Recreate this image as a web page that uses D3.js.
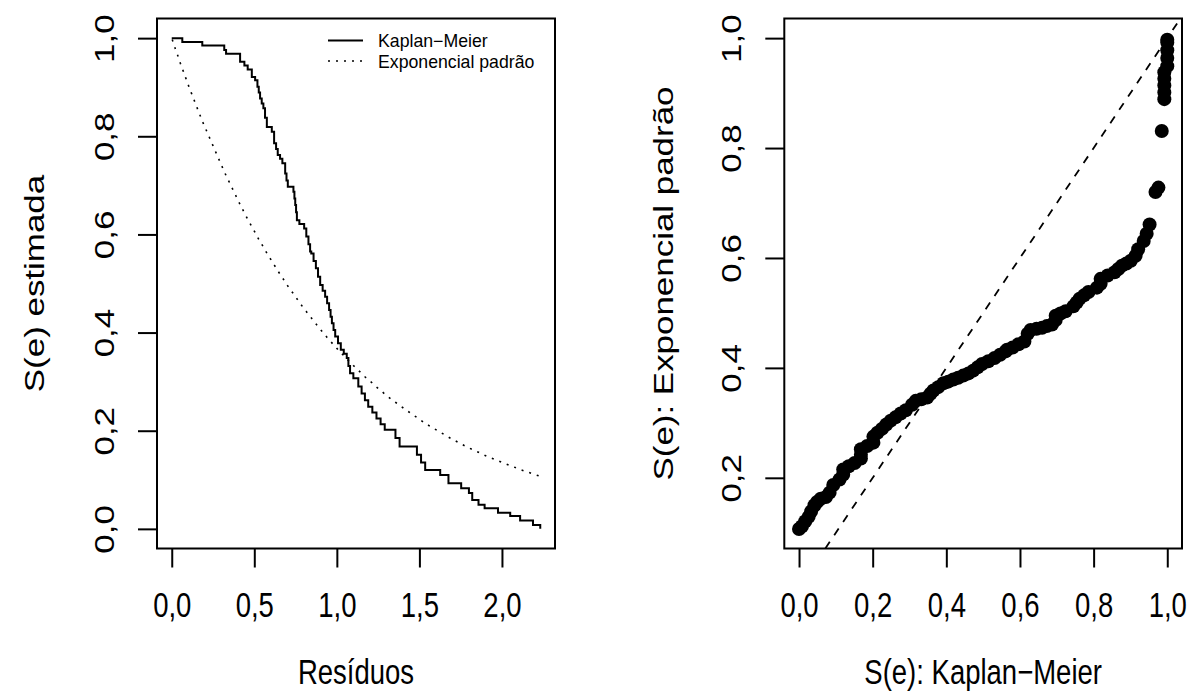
<!DOCTYPE html>
<html>
<head>
<meta charset="utf-8">
<script src="https://cdn.jsdelivr.net/npm/d3@7"></script>
<style>
  body { margin: 0; background: #fff; }
  svg { display: block; font-family: "Liberation Sans", Arial, Helvetica, sans-serif; }
</style>
</head>
<body>
<svg width="1192" height="698"></svg>
<script>
// Residuals (sorted), Kaplan-Meier estimate and standard exponential S(e) at each one
const residuos = [0.003, 0.008, 0.022, 0.037, 0.052, 0.064, 0.077, 0.090, 0.104, 0.118,
  0.185, 0.318, 0.329, 0.414, 0.440, 0.460, 0.485, 0.505, 0.519, 0.527,
  0.535, 0.545, 0.555, 0.565, 0.576, 0.592, 0.606, 0.620, 0.632, 0.642,
  0.656, 0.670, 0.687, 0.695, 0.703, 0.720, 0.737, 0.743, 0.748, 0.753,
  0.758, 0.773, 0.802, 0.815, 0.828, 0.838, 0.845, 0.859, 0.873, 0.886,
  0.899, 0.914, 0.929, 0.941, 0.953, 0.962, 0.970, 0.980, 0.990, 1.007,
  1.024, 1.042, 1.060, 1.070, 1.080, 1.100, 1.130, 1.150, 1.170, 1.190,
  1.215, 1.240, 1.265, 1.290, 1.330, 1.355, 1.380, 1.420, 1.450, 1.485,
  1.510, 1.535, 1.580, 1.626, 1.676, 1.753, 1.800, 1.820, 1.858, 1.895,
  1.976, 2.050, 2.110, 2.188, 2.232];
const survKM = [1.000, 1.000, 1.000, 1.000, 1.000, 0.992, 0.992, 0.992, 0.992, 0.992,
  0.985, 0.976, 0.968, 0.952, 0.944, 0.936, 0.921, 0.914, 0.901, 0.889,
  0.877, 0.867, 0.857, 0.838, 0.819, 0.819, 0.809, 0.786, 0.774, 0.762,
  0.754, 0.745, 0.724, 0.710, 0.697, 0.697, 0.687, 0.673, 0.660, 0.645,
  0.629, 0.621, 0.612, 0.596, 0.580, 0.565, 0.561, 0.546, 0.531, 0.514,
  0.497, 0.485, 0.473, 0.460, 0.446, 0.432, 0.419, 0.405, 0.392, 0.378,
  0.365, 0.357, 0.348, 0.332, 0.317, 0.307, 0.290, 0.276, 0.262, 0.249,
  0.237, 0.225, 0.213, 0.202, 0.202, 0.185, 0.168, 0.168, 0.168, 0.151,
  0.135, 0.120, 0.120, 0.110, 0.093, 0.083, 0.073, 0.059, 0.049, 0.042,
  0.033, 0.026, 0.017, 0.008, 0.000];
const survExp = [0.997, 0.992, 0.978, 0.964, 0.949, 0.938, 0.926, 0.914, 0.901, 0.889,
  0.831, 0.728, 0.720, 0.661, 0.644, 0.631, 0.616, 0.604, 0.595, 0.590,
  0.586, 0.580, 0.574, 0.568, 0.562, 0.553, 0.546, 0.538, 0.532, 0.526,
  0.519, 0.512, 0.503, 0.499, 0.495, 0.487, 0.479, 0.476, 0.473, 0.471,
  0.469, 0.462, 0.448, 0.443, 0.437, 0.433, 0.430, 0.424, 0.418, 0.412,
  0.407, 0.401, 0.395, 0.390, 0.386, 0.382, 0.379, 0.375, 0.372, 0.365,
  0.359, 0.353, 0.346, 0.343, 0.340, 0.333, 0.323, 0.317, 0.310, 0.304,
  0.297, 0.289, 0.282, 0.275, 0.264, 0.258, 0.252, 0.242, 0.235, 0.227,
  0.221, 0.215, 0.206, 0.197, 0.187, 0.173, 0.165, 0.162, 0.156, 0.150,
  0.139, 0.129, 0.121, 0.112, 0.107];

// Tick values and labels
const xTicksLeft = [0, 0.5, 1, 1.5, 2];
const yTicksLeft = [0, 0.2, 0.4, 0.6, 0.8, 1];
const xTicksRight = [0, 0.2, 0.4, 0.6, 0.8, 1];
const yTicksRight = [0.2, 0.4, 0.6, 0.8, 1];
const legendLabels = ["Kaplan\u2212Meier", "Exponencial padrão"];

const svg = d3.select("svg");
const fontSize = 27.5;
const stretch = 1.27; // text in the original is taller than it is wide
const tickLen = 19;

// Portuguese decimal comma
const fmt = d3.formatLocale({ decimal: ",", thousands: ".", grouping: [3], currency: ["R$", ""] }).format(".1f");

// Plot regions of the two panels
const left = { x0: 157, x1: 555, y0: 18.5, y1: 548.5 };
const right = { x0: 784.3, x1: 1182, y0: 18.5, y1: 548.5 };

const xL = d3.scaleLinear().domain([-0.0893, 2.3213]).range([left.x0, left.x1]);
const yL = d3.scaleLinear().domain([-0.04, 1.04]).range([left.y1, left.y0]);
const xR = d3.scaleLinear().domain([-0.04, 1.04]).range([right.x0, right.x1]);
const yR = d3.scaleLinear().domain([0.0714, 1.0357]).range([right.y1, right.y0]);

function drawAxes(p, x, y, xTicks, yTicks) {
  // bottom axis
  const gx = svg.append("g")
    .attr("transform", `translate(0,${p.y1})`)
    .call(d3.axisBottom(x).tickValues(xTicks).tickFormat(fmt).tickSize(tickLen));
  gx.select(".domain").remove();
  gx.attr("font-size", fontSize).attr("font-family", null);
  gx.selectAll("line").attr("stroke-width", 2);
  gx.selectAll("text")
    .attr("y", 0)
    .attr("dy", null)
    .attr("transform", `translate(0,${617 - p.y1}) scale(1,${stretch})`);

  // left axis, labels parallel to the axis
  const gy = svg.append("g")
    .attr("transform", `translate(${p.x0},0)`)
    .call(d3.axisLeft(y).tickValues(yTicks).tickFormat(fmt).tickSize(tickLen));
  gy.select(".domain").remove();
  gy.attr("font-size", fontSize).attr("font-family", null);
  gy.selectAll("line").attr("stroke-width", 2);
  gy.selectAll("text")
    .attr("x", 0)
    .attr("y", 0)
    .attr("dy", null)
    .attr("text-anchor", "middle")
    .attr("transform", `translate(-43,0) scale(1,${stretch}) rotate(-90)`);

  // box
  svg.append("rect")
    .attr("x", p.x0)
    .attr("y", p.y0)
    .attr("width", p.x1 - p.x0)
    .attr("height", p.y1 - p.y0)
    .attr("fill", "none")
    .attr("stroke", "black")
    .attr("stroke-width", 2);
}

function axisTitles(p, xTitle, yTitle, yTitleX) {
  svg.append("text")
    .attr("transform", `translate(${(p.x0 + p.x1) / 2},684) scale(1,${stretch})`)
    .attr("text-anchor", "middle")
    .attr("font-size", fontSize)
    .text(xTitle);

  svg.append("text")
    .attr("transform", `translate(${yTitleX},${(p.y0 + p.y1) / 2}) scale(1,${stretch}) rotate(-90)`)
    .attr("text-anchor", "middle")
    .attr("font-size", fontSize)
    .text(yTitle);
}

// ---- Left panel: Kaplan-Meier vs standard exponential
drawAxes(left, xL, yL, xTicksLeft, yTicksLeft);
axisTitles(left, "Resíduos", "S(e) estimada", 44);

const kmPoints = [[0, 1]].concat(residuos.map((e, i) => [e, survKM[i]]));
svg.append("path")
  .datum(kmPoints)
  .attr("fill", "none")
  .attr("stroke", "black")
  .attr("stroke-width", 2)
  .attr("d", d3.line()
    .x(d => xL(d[0]))
    .y(d => yL(d[1]))
    .curve(d3.curveStepAfter));

svg.append("path")
  .datum(residuos.map((e, i) => [e, survExp[i]]))
  .attr("fill", "none")
  .attr("stroke", "black")
  .attr("stroke-width", 1.6)
  .attr("stroke-dasharray", "2,6")
  .attr("d", d3.line()
    .x(d => xL(d[0]))
    .y(d => yL(d[1])));

// legend (no box)
const legend = svg.append("g")
  .attr("class", "legend");

const legendItems = legend.selectAll("g")
  .data(legendLabels)
  .join("g")
  .attr("transform", (d, i) => `translate(328,${40.5 + i * 20.5})`);

legendItems.append("line")
  .attr("x1", 0)
  .attr("x2", 35)
  .attr("stroke", "black")
  .attr("stroke-width", (d, i) => i === 0 ? 2 : 1.6)
  .attr("stroke-dasharray", (d, i) => i === 0 ? null : "2,6");

legendItems.append("text")
  .attr("x", 50)
  .attr("y", 6.5)
  .attr("font-size", 17.7)
  .text(d => d);

// ---- Right panel: S(e) exponential vs S(e) Kaplan-Meier
drawAxes(right, xR, yR, xTicksRight, yTicksRight);
axisTitles(right, "S(e): Kaplan\u2212Meier", "S(e): Exponencial padrão", 673);

svg.append("path")
  .datum([yR.domain()[0], yR.domain()[1]])
  .attr("fill", "none")
  .attr("stroke", "black")
  .attr("stroke-width", 1.8)
  .attr("stroke-dasharray", "8,8")
  .attr("d", d3.line()
    .x(d => xR(d))
    .y(d => yR(d)));

svg.append("g")
  .selectAll("circle")
  .data(residuos.map((e, i) => ({ km: survKM[i], ex: survExp[i] })))
  .join("circle")
  .attr("cx", d => xR(d.km))
  .attr("cy", d => yR(d.ex))
  .attr("r", 7)
  .attr("fill", "black");
</script>
</body>
</html>
